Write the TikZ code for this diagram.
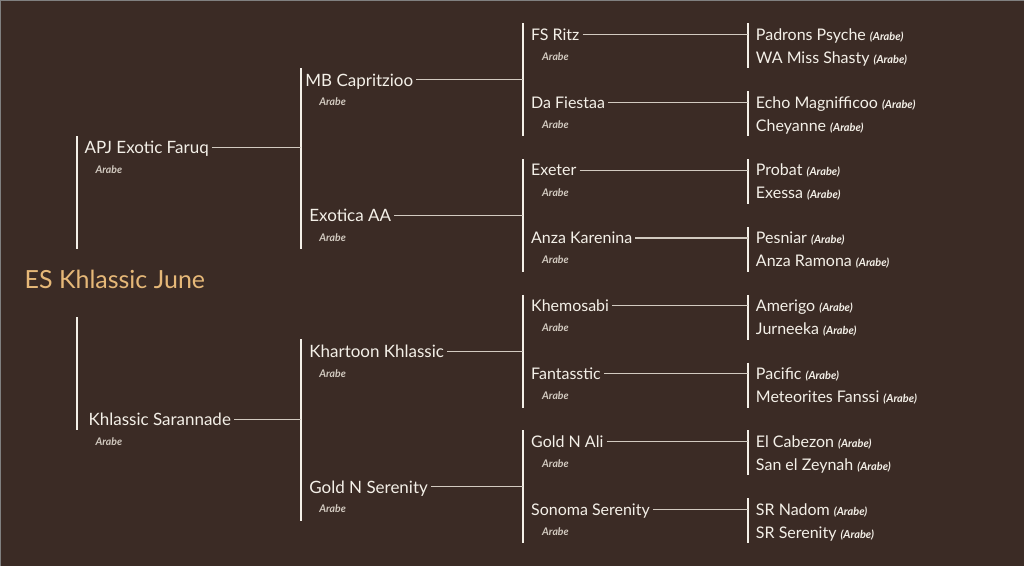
\documentclass[tikz,border=0pt]{standalone}
\usepackage{fontspec}
\setmainfont{Lato}
\usetikzlibrary{positioning}

\begin{document}
\begin{tikzpicture}[x=1pt,y=-1pt,
    bar/.style={draw=Bone, line width=2pt},
    link/.style={draw=Ash, line width=1.1pt},
    horse/.style={anchor=west, inner sep=3pt, text=Bone,
      font=\fontsize{16}{16}\selectfont, text height=11.5pt, text depth=0pt},
    sire/.style={horse, font=\fontsize{17}{17}\selectfont, text height=12.5pt},
    breed/.style={anchor=base west, inner sep=0pt, text=Ash,
      font=\fontsize{10.5}{10.5}\selectfont\bfseries\itshape}]
    \definecolor{Cocoa}{HTML}{3B2B25}
    \definecolor{Bone}{HTML}{F4F0E8}
    \definecolor{Ash}{HTML}{D2CAC0}
    \definecolor{Honey}{HTML}{E6B878}
    \fill[Cocoa] (0,0) rectangle (1024,566);
    \draw[gray, line width=1pt] (0,0.5) -- (1024,0.5) (0.5,0) -- (0.5,566);
    % the foal
    \node[anchor=base west, inner sep=0pt, text=Honey,
      font=\fontsize{25}{25}\selectfont] (foal) at (24,288) {ES Khlassic June};
    % brackets
    \draw[bar] (77,136) -- (77,249) (77,317) -- (77,430);
    \draw[bar] (301,68) -- (301,249) (301,339) -- (301,521);
    \foreach \k in {0,...,3}
        \draw[bar] (523,23+135.8*\k) -- (523,136+135.8*\k);
    \foreach \k in {0,...,7}
        \draw[bar] (748,23+67.9*\k) -- (748,68+67.9*\k);
    % parents
    \foreach \x/\y/\horse [count=\i] in {81/147/APJ Exotic Faruq,
                                         85/419/Khlassic Sarannade}{%
        \node[sire] (g1-\i) at (\x,\y) {\horse};
        \node[breed] (r1-\i) at (95,\y+26) {Arabe};
        \coordinate (j2-\i) at (301,\y);
        \draw[link] (g1-\i) -- (j2-\i);
    }
    % grandparents
    \foreach \x/\y/\horse [count=\i] in {302/79.5/MB Capritzioo,
                                         306/215.3/Exotica AA,
                                         306/351.1/Khartoon Khlassic,
                                         306/486.9/Gold N Serenity}{%
        \node[sire] (g2-\i) at (\x,\y) {\horse};
        \node[breed] (r2-\i) at (319,\y+26) {Arabe};
        \coordinate (j3-\i) at (523,\y);
        \draw[link] (g2-\i) -- (j3-\i);
    }
    % great-grandparents
    \foreach \horse [count=\i] in {FS Ritz, Da Fiestaa, Exeter, Anza Karenina,
                                   Khemosabi, Fantasstic, Gold N Ali,
                                   Sonoma Serenity}{%
        \pgfmathsetmacro\y{34+67.9*(\i-1)}
        \node[horse] (g3-\i) at (528,\y) {\horse};
        \node[breed] (r3-\i) at (542,\y+26) {Arabe};
        \coordinate (j4-\i) at (748,\y);
        \draw[link] (g3-\i) -- (j4-\i);
    }
    % last generation
    \foreach \horse [count=\i] in {Padrons Psyche, WA Miss Shasty,
                                   Echo Magnifficoo, Cheyanne, Probat, Exessa,
                                   Pesniar, Anza Ramona, Amerigo, Jurneeka,
                                   Pacific, Meteorites Fanssi, El Cabezon,
                                   San el Zeynah, SR Nadom, SR Serenity}{%
        \pgfmathsetmacro\y{34+67.9*int((\i-1)/2)+23*mod(\i-1,2)}
        \node[horse] (g4-\i) at (753,\y)
            {\horse\ {\fontsize{11}{11}\selectfont\bfseries\itshape(Arabe)}};
    }
\end{tikzpicture}
\end{document}
